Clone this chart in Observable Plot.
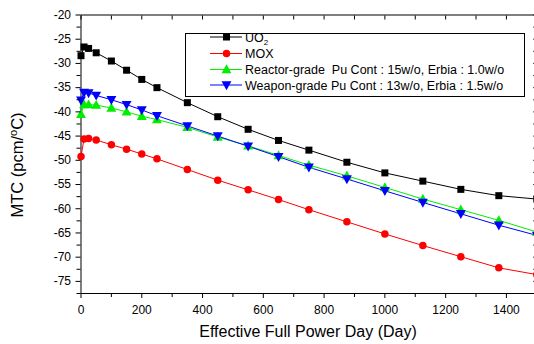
<!DOCTYPE html>
<html><head><meta charset="utf-8">
<script src="https://cdn.jsdelivr.net/npm/d3@7"></script>
<script src="https://cdn.jsdelivr.net/npm/@observablehq/plot@0.6"></script>
<style>body{margin:0;background:#fff;font-family:"Liberation Sans",Arial,sans-serif;overflow:hidden}</style>
</head><body><div id="chart"></div>
<script>
const days = [0, 10, 25, 50, 100, 150, 200, 250, 350, 450, 550, 650, 750, 875, 1000, 1125, 1250, 1375, 1500];
const uo2 = [-28.4, -26.6, -26.9, -27.8, -29.5, -31.4, -33.3, -35.0, -38.1, -41.0, -43.6, -45.9, -47.9, -50.4, -52.6, -54.3, -56.0, -57.3, -58.0];
const mox = [-49.2, -45.6, -45.5, -45.8, -46.8, -47.7, -48.7, -49.7, -51.9, -54.1, -56.1, -58.1, -60.2, -62.7, -65.2, -67.6, -69.9, -72.2, -73.6];
const reactor = [-40.5, -38.5, -38.5, -38.6, -39.2, -40.0, -40.9, -41.6, -43.2, -45.2, -47.0, -49.0, -51.0, -53.2, -55.6, -58.0, -60.2, -62.4, -64.8];
const weapon = [-37.6, -36.0, -36.1, -36.6, -37.5, -38.5, -39.6, -40.8, -42.9, -45.0, -47.1, -49.25, -51.45, -53.85, -56.3, -58.7, -61.05, -63.4, -65.5];
const seriesNames = ["UO2", "MOX", "Reactor-grade  Pu Cont : 15w/o, Erbia : 1.0w/o", "Weapon-grade Pu Cont : 13w/o, Erbia : 1.5w/o"];
const seriesColors = ["#000000", "#ff0000", "#00ee00", "#0000ff"];
const xTicks = [0, 200, 400, 600, 800, 1000, 1200, 1400];
const xMinor = [100, 300, 500, 700, 900, 1100, 1300];
const yTicks = [-75, -70, -65, -60, -55, -50, -45, -40, -35, -30, -25, -20];
const yMinor = [-77.5, -72.5, -67.5, -62.5, -57.5, -52.5, -47.5, -42.5, -37.5, -32.5, -27.5, -22.5];

// marker shapes
const triUp = {draw(ctx, size) { const h = Math.sqrt(size) * 0.62; ctx.moveTo(0, -h * 1.05); ctx.lineTo(h, h * 0.75); ctx.lineTo(-h, h * 0.75); ctx.closePath(); }};
const triDown = {draw(ctx, size) { const h = Math.sqrt(size) * 0.62; ctx.moveTo(0, h * 1.05); ctx.lineTo(h, -h * 0.75); ctx.lineTo(-h, -h * 0.75); ctx.closePath(); }};
const sq = {draw(ctx, size) { const h = Math.sqrt(size) * 0.5; ctx.rect(-h, -h, 2 * h, 2 * h); }};
const circ = {draw(ctx, size) { const r = Math.sqrt(size) * 0.5; ctx.moveTo(r, 0); ctx.arc(0, 0, r, 0, 2 * Math.PI); }};
const seriesSymbols = [sq, circ, triUp, triDown];
const seriesSizes = [49, 56, 64, 64];

const allSeries = [uo2, mox, reactor, weapon];
const rows = [];
allSeries.forEach((vals, s) => vals.forEach((v, i) => rows.push({s, x: days[i], y: v})));

const font = '"Liberation Sans", Arial, sans-serif';
const marks = [Plot.frame({stroke: "#000", strokeWidth: 1})];
allSeries.forEach((vals, s) => {
  const d = rows.filter(r => r.s === s);
  marks.push(Plot.line(d, {x: "x", y: "y", stroke: seriesColors[s], strokeWidth: 1}));
});
allSeries.forEach((vals, s) => {
  const d = rows.filter(r => r.s === s);
  marks.push(Plot.dot(d, {x: "x", y: "y", fill: seriesColors[s], stroke: "none", symbol: seriesSymbols[s], r: Math.sqrt(seriesSizes[s] / Math.PI)}));
});
marks.push(
  Plot.axisX({ticks: xTicks, tickSize: 5, tickPadding: 7, fontSize: 12, label: null, tickFormat: d => String(d)}),
  Plot.axisX({ticks: xMinor, tickSize: 4, text: null, label: null}),
  Plot.axisX({anchor: "top", ticks: xTicks.concat(xMinor), tickSize: -4, text: null, label: null}),
  Plot.axisY({ticks: yTicks, tickSize: 5, tickPadding: 5, fontSize: 12, label: null, tickFormat: d => String(d)}),
  Plot.axisY({ticks: yMinor, tickSize: 4, text: null, label: null}),
  Plot.axisY({anchor: "right", ticks: yTicks.concat(yMinor), tickSize: -4, text: null, label: null})
);

const plot = Plot.plot({
  width: 534, height: 344,
  marginLeft: 80.5, marginRight: -2.3, marginTop: 14.5, marginBottom: 51,
  style: {fontFamily: font, background: "#fff", overflow: "hidden"},
  x: {domain: [0, 1500]},
  y: {domain: [-77.5, -20]},
  marks
});
document.getElementById("chart").appendChild(plot);

const svg = d3.select(plot);
// axis titles
svg.append("text").attr("x", 308).attr("y", 336.5).attr("text-anchor", "middle")
  .attr("font-size", 16).attr("font-family", font).attr("fill", "#000")
  .text("Effective Full Power Day (Day)");
const yl = svg.append("text").attr("transform", "translate(23,165) rotate(-90)").attr("text-anchor", "middle")
  .attr("font-size", 16.5).attr("font-family", font).attr("fill", "#000");
yl.append("tspan").text("MTC (pcm/");
yl.append("tspan").attr("font-size", 11).attr("dy", -6).text("o");
yl.append("tspan").attr("dy", 6).text("C)");

// legend
const lg = svg.append("g");
lg.append("rect").attr("x", 185.5).attr("y", 33.5).attr("width", 339).attr("height", 63)
  .attr("fill", "#fff").attr("stroke", "#000").attr("stroke-width", 1);
const rowY = [37, 53.5, 69.5, 85];
seriesNames.forEach((name, i) => {
  const y = rowY[i];
  lg.append("line").attr("x1", 210).attr("x2", 242).attr("y1", y).attr("y2", y)
    .attr("stroke", seriesColors[i]).attr("stroke-width", 1);
  const p = d3.path();
  seriesSymbols[i].draw(p, seriesSizes[i]);
  lg.append("path").attr("transform", `translate(226.5,${y})`).attr("d", p.toString()).attr("fill", seriesColors[i]);
  const t = lg.append("text").attr("x", 245).attr("y", y + 4.5).attr("font-size", 12.5).attr("text-anchor", "start")
    .attr("font-family", font).attr("fill", "#000").style("white-space", "pre");
  if (i === 0) {
    t.append("tspan").text("UO");
    t.append("tspan").attr("font-size", 8).attr("dy", 3).text("2");
  } else {
    t.text(name);
  }
});
</script></body></html>
